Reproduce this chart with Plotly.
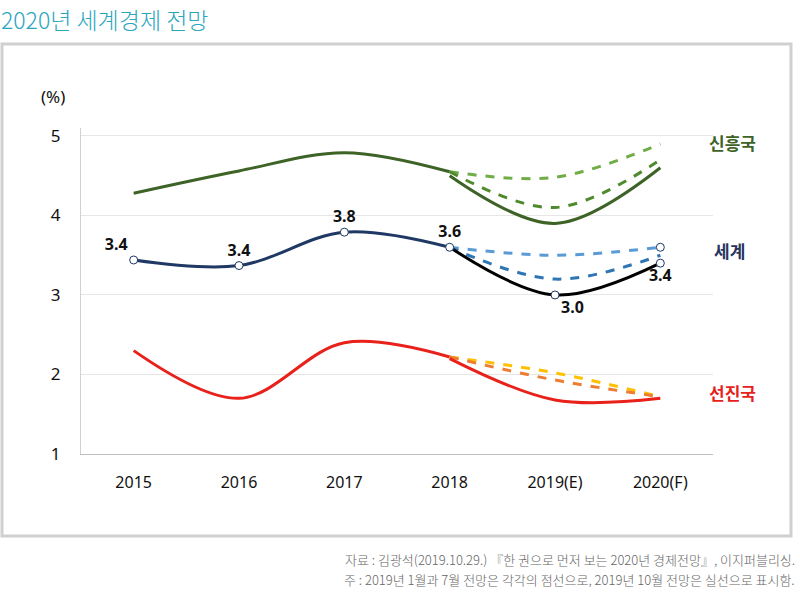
import plotly.graph_objects as go

years = ["2015", "2016", "2017", "2018", "2019(E)", "2020(F)"]

# 신흥국
emerging_hist = [4.28, 4.56, 4.79, 4.55, None, None]
emerging_jan = [None, None, None, 4.55, 4.48, 4.9]
emerging_jul = [None, None, None, 4.55, 4.1, 4.7]
emerging_oct = [None, None, None, 4.5, 3.9, 4.6]

# 세계
world_hist = [3.44, 3.37, 3.79, 3.6, None, None]
world_jan = [None, None, None, 3.6, 3.5, 3.6]
world_jul = [None, None, None, 3.6, 3.2, 3.5]
world_oct = [None, None, None, 3.6, 3.0, 3.4]

# 선진국
adv_hist = [2.3, 1.7, 2.4, 2.22, None, None]
adv_jan = [None, None, None, 2.22, 2.02, 1.72]
adv_jul = [None, None, None, 2.22, 1.93, 1.72]
adv_oct = [None, None, None, 2.2, 1.68, 1.7]

FONT = "Noto Sans, Noto Sans CJK KR, sans-serif"
KR = "Noto Sans CJK KR"
LABEL_FONT = dict(family=FONT, size=16, color="#111111", weight="bold")


def fmt(vals):
    return [f"{v:.1f}" if v is not None else "" for v in vals]


def line(y, color, dash="solid", width=3):
    return go.Scatter(
        x=years, y=y, mode="lines", connectgaps=False,
        line=dict(color=color, width=width, dash=dash, shape="spline", smoothing=1.0),
        hoverinfo="skip",
    )


fig = go.Figure()

# 신흥국
fig.add_trace(line(emerging_hist, "#3e6327"))
fig.add_trace(line(emerging_jan, "#70ad47", dash="dash"))
fig.add_trace(line(emerging_jul, "#4f8a2d", dash="dash"))
fig.add_trace(line(emerging_oct, "#3e6327"))

# 선진국
fig.add_trace(line(adv_hist, "#e8221b"))
fig.add_trace(line(adv_jan, "#ffc000", dash="dash"))
fig.add_trace(line(adv_jul, "#ed7d31", dash="dash"))
fig.add_trace(line(adv_oct, "#e8221b"))

# 세계
fig.add_trace(line(world_jan, "#5b9bd5", dash="dash"))
fig.add_trace(line(world_jul, "#2e75b6", dash="dash"))
fig.add_trace(line(world_oct, "#000000"))
fig.add_trace(line(world_hist, "#1f3864"))

marker = dict(color="white", size=8, line=dict(color="#1f3864", width=1))

fig.add_trace(go.Scatter(
    x=years, y=world_hist, mode="markers+text", marker=marker,
    text=fmt(world_hist), textposition=["top left", "top center", "top center", "top center", "top center", "top center"],
    textfont=LABEL_FONT, hoverinfo="skip",
))
fig.add_trace(go.Scatter(
    x=years[4:], y=world_oct[4:], mode="markers+text", marker=marker,
    text=fmt(world_oct[4:]), textposition=["bottom right", "bottom center"],
    textfont=LABEL_FONT, hoverinfo="skip",
))
fig.add_trace(go.Scatter(
    x=years[5:], y=world_jan[5:], mode="markers", marker=marker, hoverinfo="skip",
))

fig.update_layout(
    width=800, height=592,
    margin=dict(l=81, r=87, t=128, b=138),
    paper_bgcolor="white", plot_bgcolor="white",
    showlegend=False,
    font=dict(family=FONT, color="#111111"),
    xaxis=dict(
        type="category", range=[-0.5, 5.5], showgrid=False,
        showline=True, linecolor="#bfbfbf", linewidth=1, ticks="",
        tickfont=dict(size=16, color="#111111"), ticklabelstandoff=14,
        fixedrange=True,
    ),
    yaxis=dict(
        range=[1, 5.1], tickvals=[1, 2, 3, 4, 5], showgrid=True,
        gridcolor="#e6e6e6", gridwidth=1, zeroline=False,
        showline=True, linecolor="#d0d0d0", linewidth=1, ticks="",
        tickfont=dict(size=17, color="#111111"), ticklabelstandoff=16,
        fixedrange=True,
    ),
    shapes=[dict(
        type="rect", xref="paper", yref="paper",
        x0=-0.125, x1=1.1234, y0=-0.2515, y1=1.2577,
        line=dict(color="#d0d0d0", width=3), layer="below",
    )],
    annotations=[
        dict(text="2020년 세계경제 전망", xref="paper", yref="paper",
             x=-0.13, y=1.3926, xanchor="left", yanchor="top", showarrow=False,
             font=dict(family=KR, size=23, color="#2aa6be", weight=300)),
        dict(text="(%)", xref="paper", yref="paper", x=-0.045, y=1.097,
             xanchor="center", yanchor="middle", showarrow=False,
             font=dict(size=17, color="#111111")),
        dict(text="<b>신흥국</b>", xref="paper", yref="paper", x=0.99, y=0.954,
             xanchor="left", yanchor="middle", showarrow=False,
             font=dict(family=KR, size=17, color="#3e6327")),
        dict(text="<b>세계</b>", xref="paper", yref="paper", x=0.998, y=0.625,
             xanchor="left", yanchor="middle", showarrow=False,
             font=dict(family=KR, size=17, color="#27345f")),
        dict(text="<b>선진국</b>", xref="paper", yref="paper", x=0.99, y=0.19,
             xanchor="left", yanchor="middle", showarrow=False,
             font=dict(family=KR, size=17, color="#e8221b")),
        dict(text="자료 : 김광석(2019.10.29.) 『한 권으로 먼저 보는 2020년 경제전망』, 이지퍼블리싱.",
             xref="paper", yref="paper", x=1.133, y=-0.325, xanchor="right", yanchor="middle",
             showarrow=False, font=dict(family=KR, size=13, color="#666666", weight=300)),
        dict(text="주 : 2019년 1월과 7월 전망은 각각의 점선으로, 2019년 10월 전망은 실선으로 표시함.",
             xref="paper", yref="paper", x=1.133, y=-0.385, xanchor="right", yanchor="middle",
             showarrow=False, font=dict(family=KR, size=13, color="#666666", weight=300)),
    ],
)

fig.write_html("out.html", config={"displayModeBar": False},
               post_script="document.body.style.margin='0';")
